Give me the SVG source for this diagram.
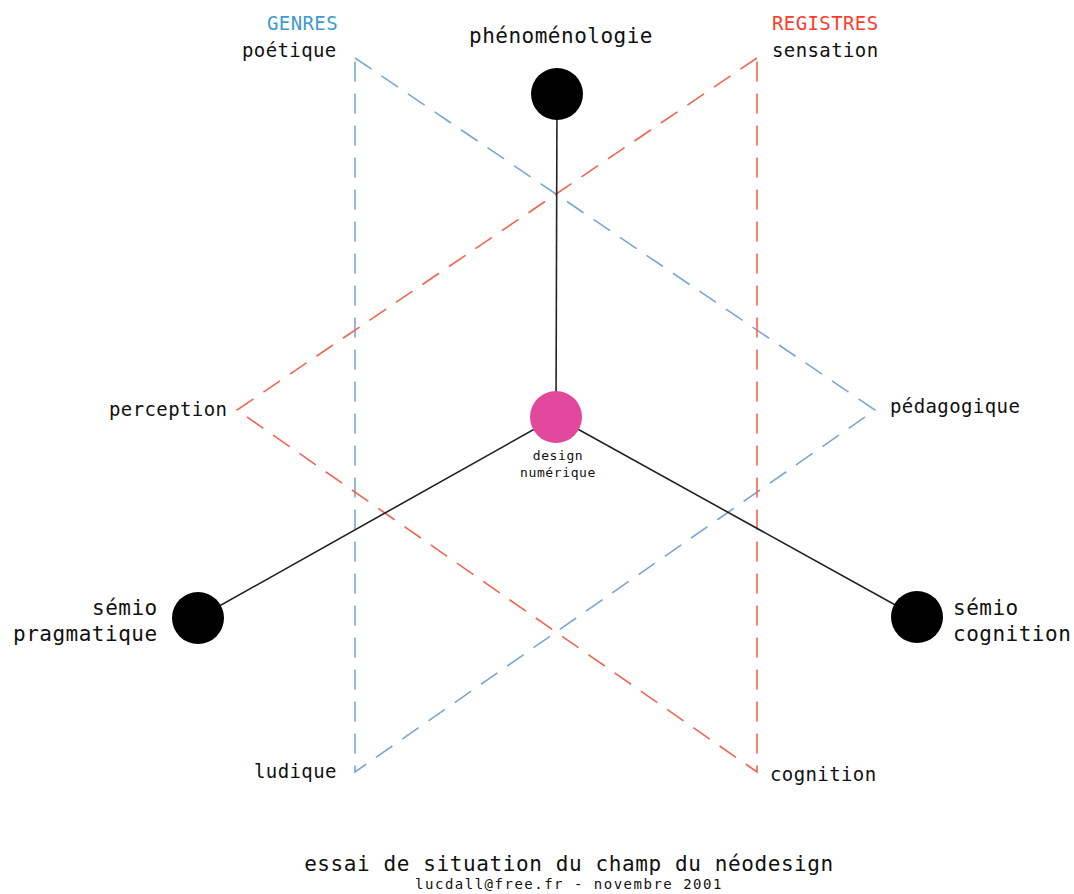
<svg xmlns="http://www.w3.org/2000/svg" width="1074" height="894" viewBox="0 0 1074 894">
<style>
text{font-family:"DejaVu Sans Mono","Liberation Mono",monospace;fill:#111}
.t{font-size:19px;letter-spacing:0.4px}
.n{font-size:21px;letter-spacing:0.5px}
.s{font-size:13px;letter-spacing:0.6px}
.blue{fill:none;stroke:#7aa6d6;stroke-width:1.6;stroke-dasharray:20 12}
.red{fill:none;stroke:#f2654e;stroke-width:1.6;stroke-dasharray:20 12}
.edge{stroke:#222;stroke-width:1.6}
</style>
<rect width="1074" height="894" fill="#fff"/>
<g id="triangles">
<path class="blue" d="M355,58 L875,410 L355,772 Z"/>
<path class="red" d="M757,58 L237,410 L757,772 Z"/>
</g>
<g id="connectors">
<line class="edge" x1="557" y1="94" x2="556" y2="417"/>
<line class="edge" x1="556" y1="417" x2="198" y2="618"/>
<line class="edge" x1="556" y1="417" x2="917" y2="617"/>
</g>
<g id="phenomenologie">
<circle cx="557" cy="94" r="26" fill="#000"/>
<text class="n" x="469" y="43">phénoménologie</text>
</g>
<g id="semio-pragmatique">
<circle cx="198" cy="618" r="26" fill="#000"/>
<text class="n" x="92" y="615">sémio</text>
<text class="n" x="13" y="641">pragmatique</text>
</g>
<g id="semio-cognition">
<circle cx="917" cy="617" r="26" fill="#000"/>
<text class="n" x="953" y="615">sémio</text>
<text class="n" x="953" y="641">cognition</text>
</g>
<g id="design-numerique">
<circle cx="556" cy="417" r="26" fill="#e2489c"/>
<text class="s" x="558" y="460" text-anchor="middle">design</text>
<text class="s" x="558" y="477" text-anchor="middle">numérique</text>
</g>
<g id="labels">
<text class="t" x="267" y="30" style="fill:#3f9ad2">GENRES</text>
<text class="t" x="242" y="57">poétique</text>
<text class="t" x="772" y="30" style="fill:#ff3b2b">REGISTRES</text>
<text class="t" x="772" y="57">sensation</text>
<text class="t" x="109" y="416">perception</text>
<text class="t" x="890" y="413">pédagogique</text>
<text class="t" x="254" y="778">ludique</text>
<text class="t" x="770" y="781">cognition</text>
</g>
<g id="title">
<text x="569" y="871" text-anchor="middle" style="font-size:21px;letter-spacing:0.6px">essai de situation du champ du néodesign</text>
<text x="569" y="889" text-anchor="middle" style="font-size:14px;letter-spacing:1.5px">lucdall@free.fr - novembre 2001</text>
</g>
</svg>
